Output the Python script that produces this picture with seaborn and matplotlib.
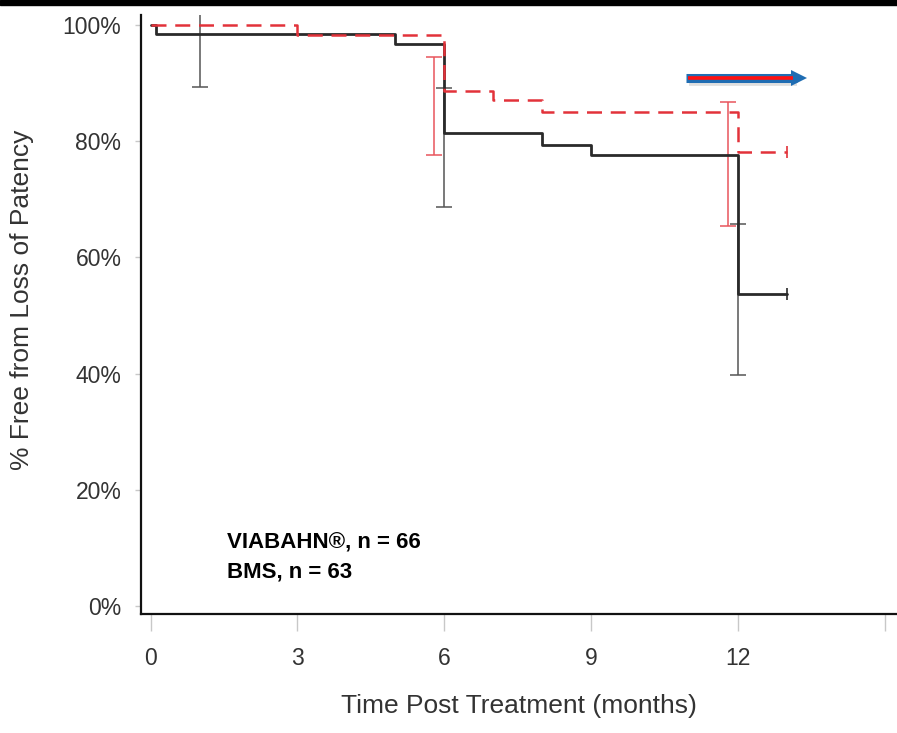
import numpy as np
import pandas as pd
import matplotlib
matplotlib.use("Agg")
import matplotlib.pyplot as plt
from matplotlib.patches import Rectangle
import seaborn as sns

# ---- data ----
viabahn_time = [0, 3, 6, 7, 8, 12, 13]
viabahn_surv = [100, 98.3, 88.6, 87.1, 85.0, 78.1, 78.1]
bms_time = [0, 0.1, 5, 6, 8, 9, 12, 13]
bms_surv = [100, 98.5, 96.8, 81.4, 79.3, 77.6, 53.7, 53.7]

viabahn_ci_time = [5.8, 11.8]
viabahn_ci_low = [77.6, 65.4]
viabahn_ci_high = [94.5, 86.8]
bms_ci_time = [1, 6, 12]
bms_ci_low = [89.3, 68.7, 39.7]
bms_ci_high = [102, 89.2, 65.7]

x_ticks = [0, 3, 6, 9, 12, 15]
x_ticklabels = ["0", "3", "6", "9", "12", ""]
y_ticks = [0, 20, 40, 60, 80, 100]
y_ticklabels = ["0%", "20%", "40%", "60%", "80%", "100%"]
legend_lines = ["VIABAHN\u00ae, n = 66", "BMS, n = 63"]

RED = "#e2323a"
BLACK = "#2a2a2a"

sns.set_style("white")
plt.rcParams["font.family"] = ["Liberation Sans", "DejaVu Sans"]

df = pd.concat([
    pd.DataFrame({"time": bms_time, "surv": bms_surv, "group": "BMS"}),
    pd.DataFrame({"time": viabahn_time, "surv": viabahn_surv, "group": "VIABAHN"}),
], ignore_index=True)

fig = plt.figure(figsize=(8.97, 7.33), dpi=100)
ax = fig.add_axes([0.157, 0.1623, 0.843, 0.8172])

sns.lineplot(data=df, x="time", y="surv", hue="group", style="group",
             hue_order=["BMS", "VIABAHN"], style_order=["BMS", "VIABAHN"],
             palette={"VIABAHN": RED, "BMS": BLACK},
             dashes={"VIABAHN": (6, 3.5), "BMS": ""},
             estimator=None, drawstyle="steps-post",
             legend=False, ax=ax)
lines = ax.get_lines()
lines[0].set_linewidth(2.0)
lines[0].set_zorder(3)
lines[1].set_linewidth(1.8)
lines[1].set_zorder(4)

# censor marks at last follow-up
ax.plot(viabahn_time[-1:], viabahn_surv[-1:], marker="|", color=RED, ms=9, mew=1.2, ls="none", zorder=4)
ax.plot(bms_time[-1:], bms_surv[-1:], marker="|", color=BLACK, ms=9, mew=1.2, ls="none", zorder=3)

# confidence intervals
def draw_ci(t, lo, hi, color):
    t = np.asarray(t); lo = np.asarray(lo); hi = np.asarray(hi)
    mid = (lo + hi) / 2
    ax.errorbar(t, mid, yerr=[mid - lo, hi - mid], fmt="none", ecolor=color,
                elinewidth=1.1, capsize=5.5, capthick=1.1, zorder=2)

draw_ci(viabahn_ci_time, viabahn_ci_low, viabahn_ci_high, "#e8555c")
draw_ci(bms_ci_time, bms_ci_low, bms_ci_high, "#555555")

# arrow (blue with red core + soft shadow)
ax.plot([11.0, 13.2], [90.45, 90.45], color="#b8b8b8", lw=7, alpha=0.45,
        solid_capstyle="butt", zorder=5)
ax.plot([10.94, 13.2], [90.9, 90.9], color="#1f6db3", lw=6.5,
        solid_capstyle="butt", zorder=6)
ax.plot([13.24], [90.9], marker=">", color="#1f6db3", ms=11, mew=0, ls="none", zorder=6)
ax.plot([10.98, 13.12], [90.9, 90.9], color="#ff1010", lw=2.6,
        solid_capstyle="butt", zorder=7)

# n text
ax.text(1.57, 10.8, legend_lines[0], fontsize=16, fontweight="bold", color="black",
        va="center", ha="left")
ax.text(1.57, 5.85, legend_lines[1], fontsize=16, fontweight="bold", color="black",
        va="center", ha="left")

# axes styling
ax.set_xlim(-0.2, 15.25)
ax.set_ylim(-1.38, 101.72)
ax.set_xticks(x_ticks)
ax.set_xticklabels(x_ticklabels)
ax.set_yticks(y_ticks)
ax.set_yticklabels(y_ticklabels)
ax.tick_params(axis="x", direction="out", length=12.5, width=1, color="#c8c8c8",
               labelsize=16.5, labelcolor="#333333", pad=11, bottom=True)
ax.tick_params(axis="y", direction="out", length=4.5, width=1, color="#c8c8c8",
               labelsize=16.5, labelcolor="#333333", pad=9.5, left=True)
for s in ["top", "right"]:
    ax.spines[s].set_visible(False)
for s in ["left", "bottom"]:
    ax.spines[s].set_color("#111111")
    ax.spines[s].set_linewidth(1.6)

ax.set_xlabel("Time Post Treatment (months)", fontsize=19, color="#333333")
ax.set_ylabel("% Free from Loss of Patency", fontsize=19, color="#333333")
ax.xaxis.set_label_coords(0.5, -0.133)
ax.yaxis.set_label_coords(-0.1415, 0.524)

# black band at top of image
fig.patches.append(Rectangle((0, 1 - 5 / 733), 1, 5 / 733, transform=fig.transFigure,
                             color="black", zorder=10))

fig.savefig("out.png", dpi=100)
